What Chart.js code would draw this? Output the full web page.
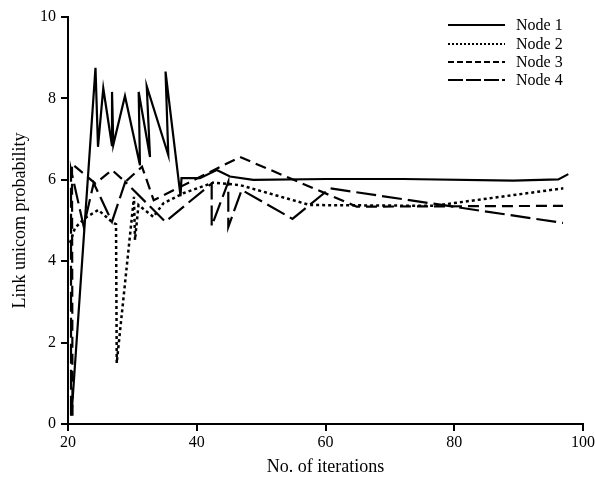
<!DOCTYPE html>
<html>
<head>
<meta charset="utf-8">
<script src="https://cdn.jsdelivr.net/npm/chart.js@4"></script>
<style>
  html, body { margin: 0; padding: 0; background: #fff; }
  #wrap { width: 595px; height: 483px; }
</style>
</head>
<body>
<div id="wrap"><canvas id="chart" width="595" height="483"></canvas></div>
<script>
// values: [iteration, probability]
const node1 = [
    [20.57, 0.27], [24.27, 8.75], [24.66, 6.81], [25.48, 8.25], [26.84, 6.83],
    [26.84, 8.16], [27.04, 6.86], [28.85, 8.06], [31.18, 6.36], [30.98, 8.16],
    [32.74, 6.56], [32.23, 8.30], [35.58, 6.61], [35.15, 8.66], [37.48, 5.6],
    [37.63, 6.04], [40.5, 6.04], [43.1, 6.24], [45.16, 6.08], [48.78, 6.0],
    [60.19, 6.02], [72.09, 6.02], [89.17, 5.98], [96.16, 6.01], [97.72, 6.14]
];
const node2 = [
    [20.31, 4.45], [21.09, 4.82], [22.64, 5.06], [24.71, 5.26], [26.79, 4.97],
    [27.46, 4.91], [27.57, 1.50], [30.25, 5.58], [30.41, 4.52], [30.95, 5.38],
    [33.25, 5.09], [34.80, 5.42], [37.91, 5.67], [42.57, 5.93], [46.72, 5.87],
    [57.59, 5.38], [76.75, 5.36], [96.94, 5.79]
];
const node3 = [
    [20.7, 0.2], [20.62, 6.39], [24.24, 5.91], [26.83, 6.24], [28.90, 5.95],
    [31.50, 6.32], [33.31, 5.50], [46.72, 6.56], [64.85, 5.34], [96.89, 5.36]
];
const node4 = [
    [20.47, 0.2], [20.47, 6.24], [22.44, 4.85], [23.99, 5.92], [26.83, 4.97],
    [28.90, 5.95], [35.11, 4.97], [42.32, 5.91], [42.32, 4.86], [44.90, 5.95],
    [44.90, 4.84], [46.98, 5.75], [54.87, 5.04], [60.70, 5.79], [96.89, 4.94]
];
const seriesNames = ['Node 1', 'Node 2', 'Node 3', 'Node 4'];
const xTicks = [20, 40, 60, 80, 100];
const yTicks = [0, 2, 4, 6, 8, 10];

const serif = 'Liberation Serif, Times New Roman, serif';
const dashes = [[], [3, 3], [11, 6], [20, 6]];

function toPoints(arr) {
    return arr.map(p => ({ x: p[0], y: p[1] }));
}

// legend drawn as a stacked list in the top right corner
const stackedLegend = {
    id: 'stackedLegend',
    afterDraw(chart) {
        const ctx = chart.ctx;
        const rows = [25, 44, 62, 80];
        ctx.save();
        chart.data.datasets.forEach((ds, i) => {
            ctx.beginPath();
            ctx.setLineDash(i === 1 ? [2, 2] : i === 2 ? [6, 3] : i === 3 ? [15, 3] : []);
            ctx.lineWidth = 2;
            ctx.strokeStyle = '#000';
            ctx.moveTo(448, rows[i]);
            ctx.lineTo(505, rows[i]);
            ctx.stroke();
            ctx.setLineDash([]);
            ctx.fillStyle = '#000';
            ctx.font = '16px ' + serif;
            ctx.textBaseline = 'middle';
            ctx.fillText(ds.label, 516, rows[i] + 1);
        });
        ctx.restore();
    }
};

const allSeries = [node1, node2, node3, node4];
const datasets = allSeries.map((s, i) => ({
    label: seriesNames[i],
    data: toPoints(s),
    borderColor: '#000',
    borderWidth: i === 1 ? 2.5 : 2.2,
    borderDash: dashes[i],
    pointRadius: 0,
    tension: 0,
    fill: false
}));

const axisTitleFont = { family: serif, size: 18 };
const tickFont = { family: serif, size: 16 };

new Chart(document.getElementById('chart').getContext('2d'), {
    type: 'line',
    data: { datasets: datasets },
    options: {
        responsive: false,
        animation: false,
        layout: { padding: { left: 0, right: 12, top: 17, bottom: 0 } },
        plugins: {
            legend: { display: false },
            tooltip: { enabled: false }
        },
        scales: {
            x: {
                type: 'linear',
                min: xTicks[0],
                max: xTicks[xTicks.length - 1],
                afterBuildTicks: s => { s.ticks = xTicks.map(v => ({ value: v })); },
                afterFit: s => { s.height = 59; s.paddingRight = 0; s.paddingLeft = 0; },
                border: { display: true, color: '#000', width: 2 },
                grid: { drawOnChartArea: false, drawTicks: true, tickLength: 7, tickColor: '#000', lineWidth: 2 },
                ticks: { color: '#000', font: tickFont, padding: 2, maxRotation: 0 },
                title: {
                    display: true,
                    text: 'No. of iterations',
                    color: '#000',
                    font: axisTitleFont,
                    padding: { top: 0, bottom: 5 }
                }
            },
            y: {
                min: yTicks[0],
                max: yTicks[yTicks.length - 1],
                afterBuildTicks: s => { s.ticks = yTicks.map(v => ({ value: v })); },
                afterFit: s => { s.width = 68; },
                border: { display: true, color: '#000', width: 2 },
                grid: { drawOnChartArea: false, drawTicks: true, tickLength: 7, tickColor: '#000', lineWidth: 2 },
                ticks: { color: '#000', font: tickFont, padding: 5 },
                title: {
                    display: true,
                    text: 'Link unicom probability',
                    color: '#000',
                    font: axisTitleFont,
                    padding: { top: 9, bottom: 0 }
                }
            }
        }
    },
    plugins: [stackedLegend]
});
</script>
</body>
</html>
